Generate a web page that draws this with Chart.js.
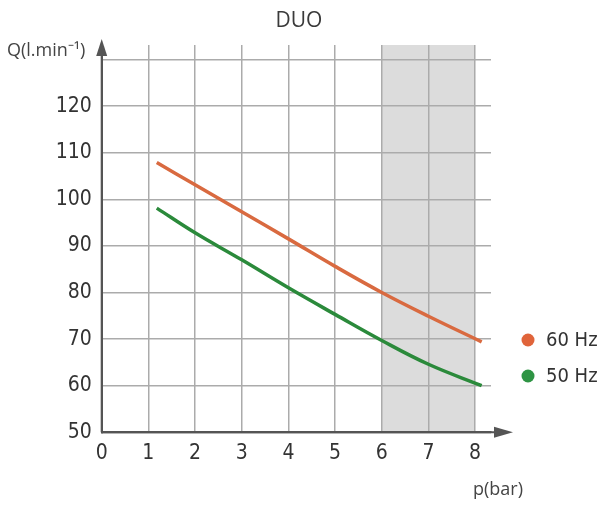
<!DOCTYPE html>
<html>
<head>
<meta charset="utf-8">
<script src="https://cdn.jsdelivr.net/npm/chart.js@4.4.1/dist/chart.umd.min.js"></script>
<style>
  html, body { margin: 0; padding: 0; background: #fff; }
  #wrap { width: 603px; height: 505px; }
</style>
</head>
<body>
<div id="wrap"><canvas id="duoChart" width="603" height="505"></canvas></div>
<script>
// Data
const pressure = [1.18, 2, 3, 4, 5, 6, 7, 8.14];
const flow60 = [107.9, 103.1, 97.3, 91.5, 85.6, 80.0, 74.9, 69.4];
const flow50 = [98.1, 92.8, 87.0, 81.0, 75.3, 69.7, 64.6, 60.0];
const xTicks = [0, 1, 2, 3, 4, 5, 6, 7, 8];
const yTicks = [50, 60, 70, 80, 90, 100, 110, 120, 130];
const shadeZone = [6, 8];
const seriesLabels = ["60 Hz", "50 Hz"];

const narrow = "'Liberation Sans Narrow', 'DejaVu Sans Condensed', 'Open Sans', sans-serif";
const axisColor = "#555";
const gridColor = "#ababab";
const col60 = "#d96a40";
const col50 = "#2b8a3b";
const legendColors = ["#e0643a", "#2e9444"];

const toPoints = (xs, ys) => xs.map((x, i) => ({ x, y: ys[i] }));

// shading, arrows, title, axis names and legend
const decorPlugin = {
  id: "decor",
  beforeDraw(chart) {
    const { ctx, chartArea, scales } = chart;
    const x1 = scales.x.getPixelForValue(shadeZone[0]);
    const x2 = scales.x.getPixelForValue(shadeZone[1]);
    ctx.save();
    ctx.fillStyle = "#dcdcdc";
    ctx.fillRect(x1, chartArea.top, x2 - x1, chartArea.bottom - chartArea.top);
    ctx.restore();
  },
  afterDraw(chart) {
    const { ctx, chartArea } = chart;
    const left = chartArea.left, bottom = chartArea.bottom;
    ctx.save();
    ctx.strokeStyle = axisColor;
    ctx.fillStyle = axisColor;
    ctx.lineWidth = 2;
    // y axis arrow
    ctx.beginPath();
    ctx.moveTo(left, bottom);
    ctx.lineTo(left, 52);
    ctx.stroke();
    ctx.beginPath();
    ctx.moveTo(left, 39);
    ctx.lineTo(left - 5.5, 56);
    ctx.lineTo(left + 5.5, 56);
    ctx.closePath();
    ctx.fill();
    // x axis arrow
    ctx.beginPath();
    ctx.moveTo(left, bottom);
    ctx.lineTo(500, bottom);
    ctx.stroke();
    ctx.beginPath();
    ctx.moveTo(513, bottom);
    ctx.lineTo(494, bottom - 5.5);
    ctx.lineTo(494, bottom + 5.5);
    ctx.closePath();
    ctx.fill();

    // title
    ctx.fillStyle = "#3a3a3a";
    ctx.textAlign = "center";
    ctx.textBaseline = "middle";
    ctx.font = "21px 'Open Sans', sans-serif";
    ctx.fillText("DUO", 299, 21);

    // axis names
    ctx.fillStyle = "#444";
    ctx.font = "18px 'Open Sans', sans-serif";
    ctx.textAlign = "left";
    ctx.fillText("Q(l.min\u207B\u00B9)", 7, 51);
    ctx.fillText("p(bar)", 473, 490);

    // legend
    const ys = [340, 376];
    ctx.font = "20px " + narrow;
    seriesLabels.forEach((lab, i) => {
      ctx.fillStyle = legendColors[i];
      ctx.beginPath();
      ctx.arc(528, ys[i], 6.5, 0, Math.PI * 2);
      ctx.fill();
      ctx.fillStyle = "#333";
      ctx.fillText(lab, 546, ys[i] + 1);
    });
    ctx.restore();
  }
};

new Chart(document.getElementById("duoChart"), {
  type: "line",
  data: {
    datasets: [
      {
        label: seriesLabels[0],
        data: toPoints(pressure, flow60),
        borderColor: col60,
        borderWidth: 3.5,
        pointRadius: 0,
        tension: 0.4,
        fill: false
      },
      {
        label: seriesLabels[1],
        data: toPoints(pressure, flow50),
        borderColor: col50,
        borderWidth: 3.5,
        pointRadius: 0,
        tension: 0.4,
        fill: false
      }
    ]
  },
  plugins: [decorPlugin],
  options: {
    responsive: false,
    animation: false,
    devicePixelRatio: 1,
    layout: { padding: { top: 45, right: 112, left: 0, bottom: 0 } },
    plugins: {
      legend: { display: false },
      title: { display: false },
      tooltip: { enabled: false }
    },
    scales: {
      x: {
        type: "linear",
        min: 0,
        max: 8.34,
        afterBuildTicks: s => { s.ticks = xTicks.map(v => ({ value: v })); },
        afterFit: s => { s.height = 72.7; },
        ticks: {
          color: "#333",
          font: { family: narrow, size: 21 },
          padding: 9,
          maxRotation: 0,
          autoSkip: false,
          callback: v => String(v)
        },
        grid: { color: gridColor, lineWidth: 1.5, drawTicks: false },
        border: { color: axisColor, width: 2 }
      },
      y: {
        min: 50,
        max: 133.1,
        afterBuildTicks: s => { s.ticks = yTicks.map(v => ({ value: v })); },
        afterFit: s => { s.width = 101.7; },
        ticks: {
          color: "#333",
          font: { family: narrow, size: 21 },
          padding: 10,
          autoSkip: false,
          callback: v => (v === 130 ? "" : String(v))
        },
        grid: { color: gridColor, lineWidth: 1.5, drawTicks: false },
        border: { color: axisColor, width: 2 }
      }
    }
  }
});
</script>
</body>
</html>
